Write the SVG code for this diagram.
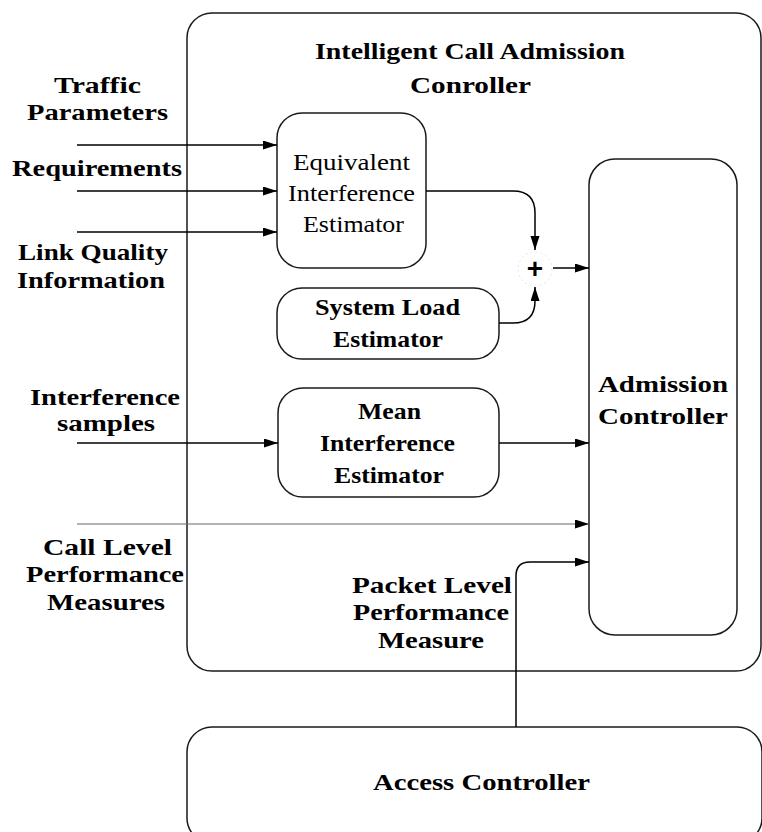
<svg xmlns="http://www.w3.org/2000/svg" width="762" height="832" viewBox="0 0 762 832">
<style>
.box{fill:none;stroke:#1a1a1a;stroke-width:1.5}
.b{font-family:"Liberation Serif",serif;font-weight:bold;font-size:24px;fill:#000}
.r{font-family:"Liberation Serif",serif;font-size:24px;fill:#000}
.c{fill:none;stroke:#000;stroke-width:1.5}
.thin{fill:none;stroke:#666;stroke-width:1}
</style>
<defs>
<marker id="ah" markerUnits="userSpaceOnUse" markerWidth="15" markerHeight="10" refX="14" refY="4.5" orient="auto">
<path d="M0,0 L14,4.5 L0,9 z" fill="#000"/>
</marker>
</defs>
<rect width="762" height="832" fill="#fff"/>

<g id="icac">
<rect class="box" x="187" y="13" width="574" height="658" rx="25"/>
<text class="b" x="315" y="59" textLength="310" lengthAdjust="spacingAndGlyphs">Intelligent Call Admission</text>
<text class="b" x="410" y="93" textLength="121" lengthAdjust="spacingAndGlyphs">Conroller</text>
</g>

<g id="eie">
<rect class="box" x="277" y="113" width="149" height="155" rx="25"/>
<text class="r" x="293" y="170" textLength="117" lengthAdjust="spacingAndGlyphs">Equivalent</text>
<text class="r" x="288" y="201" textLength="127" lengthAdjust="spacingAndGlyphs">Interference</text>
<text class="r" x="303" y="232" textLength="101" lengthAdjust="spacingAndGlyphs">Estimator</text>
</g>

<g id="sle">
<rect class="box" x="277" y="288" width="222" height="71" rx="25"/>
<text class="b" x="315" y="315" textLength="145" lengthAdjust="spacingAndGlyphs">System Load</text>
<text class="b" x="333" y="347" textLength="110" lengthAdjust="spacingAndGlyphs">Estimator</text>
</g>

<g id="mie">
<rect class="box" x="278" y="388" width="221" height="109" rx="25"/>
<text class="b" x="358" y="419" textLength="63" lengthAdjust="spacingAndGlyphs">Mean</text>
<text class="b" x="320" y="451" textLength="135" lengthAdjust="spacingAndGlyphs">Interference</text>
<text class="b" x="334" y="483" textLength="110" lengthAdjust="spacingAndGlyphs">Estimator</text>
</g>

<g id="ac">
<rect class="box" x="589" y="159" width="148" height="476" rx="26"/>
<text class="b" x="598" y="392" textLength="130" lengthAdjust="spacingAndGlyphs">Admission</text>
<text class="b" x="598" y="424" textLength="130" lengthAdjust="spacingAndGlyphs">Controller</text>
</g>

<g id="access">
<rect class="box" x="187" y="727" width="575" height="116" rx="25"/>
<text class="b" x="373" y="790" textLength="217" lengthAdjust="spacingAndGlyphs">Access Controller</text>
</g>

<g id="sum">
<circle cx="535" cy="269" r="17" fill="none" stroke="#e6e6e6" stroke-width="1" stroke-dasharray="2,3"/>
<text x="535" y="278" text-anchor="middle" font-family="Liberation Sans, sans-serif" font-weight="bold" font-size="28">+</text>
</g>

<g id="labels">
<text class="b" x="54" y="93" textLength="87" lengthAdjust="spacingAndGlyphs">Traffic</text>
<text class="b" x="27" y="120" textLength="141" lengthAdjust="spacingAndGlyphs">Parameters</text>
<text class="b" x="12" y="176" textLength="170" lengthAdjust="spacingAndGlyphs">Requirements</text>
<text class="b" x="18" y="260" textLength="150" lengthAdjust="spacingAndGlyphs">Link Quality</text>
<text class="b" x="17" y="288" textLength="148" lengthAdjust="spacingAndGlyphs">Information</text>
<text class="b" x="30" y="405" textLength="150" lengthAdjust="spacingAndGlyphs">Interference</text>
<text class="b" x="57" y="431" textLength="98" lengthAdjust="spacingAndGlyphs">samples</text>
<text class="b" x="43" y="555" textLength="129" lengthAdjust="spacingAndGlyphs">Call Level</text>
<text class="b" x="26" y="582" textLength="158" lengthAdjust="spacingAndGlyphs">Performance</text>
<text class="b" x="47" y="610" textLength="118" lengthAdjust="spacingAndGlyphs">Measures</text>
<text class="b" x="352" y="593" textLength="160" lengthAdjust="spacingAndGlyphs">Packet Level</text>
<text class="b" x="353" y="620" textLength="156" lengthAdjust="spacingAndGlyphs">Performance</text>
<text class="b" x="378" y="648" textLength="106" lengthAdjust="spacingAndGlyphs">Measure</text>
</g>

<g id="connectors">
<path class="c" d="M77,145 H277" marker-end="url(#ah)"/>
<path class="c" d="M77,191 H277" marker-end="url(#ah)"/>
<path class="c" d="M77,232 H277" marker-end="url(#ah)"/>
<path class="c" d="M426,191 H513 Q535,191 535,213 V250" marker-end="url(#ah)"/>
<path class="c" d="M499,323 H513 Q535,323 535,301 V287" marker-end="url(#ah)"/>
<path class="c" d="M553,268 H589" marker-end="url(#ah)"/>
<path class="c" d="M77,443 H278" marker-end="url(#ah)"/>
<path class="c" d="M499,443 H589" marker-end="url(#ah)"/>
<path class="thin" d="M77,524 H589" marker-end="url(#ah)"/>
<path class="c" d="M516,727 V576 Q516,562 530,562 H589" marker-end="url(#ah)"/>
</g>
</svg>
